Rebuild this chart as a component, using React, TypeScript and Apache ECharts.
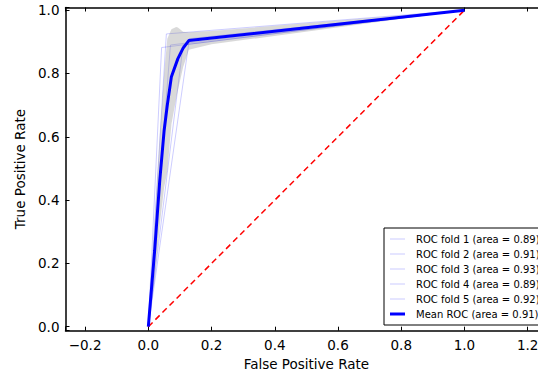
import React, { useEffect, useRef } from 'react';
import * as echarts from 'echarts';

const FONT = 'DejaVu Sans';

const foldLabels = [
  'ROC fold 1 (area = 0.89)',
  'ROC fold 2 (area = 0.91)',
  'ROC fold 3 (area = 0.93)',
  'ROC fold 4 (area = 0.89)',
  'ROC fold 5 (area = 0.92)',
];
const foldFpr = [
  [0, 0.11, 1],
  [0, 0.07, 1],
  [0, 0.057, 1],
  [0, 0.13, 1],
  [0, 0.042, 1],
];
const foldTpr = [
  [0, 0.89, 1],
  [0, 0.89, 1],
  [0, 0.925, 1],
  [0, 0.91, 1],
  [0, 0.882, 1],
];

const meanLabel = 'Mean ROC (area = 0.91)';
const meanFpr = [0, 0.02, 0.036, 0.05, 0.06, 0.073, 0.0935, 0.11, 0.128, 1];
const meanTpr = [0, 0.24, 0.46, 0.62, 0.7, 0.79, 0.847, 0.88, 0.904, 1];

const bandFpr = [0, 0.02, 0.036, 0.05, 0.06, 0.073, 0.088, 0.0935, 0.11, 0.128, 0.2, 1];
const bandUpper = [0, 0.33, 0.6, 0.8, 0.91, 0.94, 0.947, 0.945, 0.932, 0.93, 0.934, 1];
const bandLower = [0, 0.15, 0.32, 0.44, 0.49, 0.64, 0.72, 0.747, 0.82, 0.875, 0.892, 1];

const chanceX = [0, 1];
const chanceY = [0, 1];

const fmt = (v: number) => {
  const k = Math.round(v / 0.2);
  if (Math.abs(v - k * 0.2) > 1e-6) return '';
  let s = (k * 0.2).toFixed(1);
  if (s === '-0.0') s = '0.0';
  return s.startsWith('-') ? '\u2212' + s.slice(1) : s;
};

export default function App() {
  const ref = useRef<HTMLDivElement>(null);
  useEffect(() => {
    const chart = echarts.init(ref.current!, null, { renderer: 'svg' });
    const axisColor = '#000';
    const textStyle = { fontFamily: FONT, fontSize: 13.5, color: '#000' };
    const xBase = {
      type: 'value' as const,
      min: -0.262,
      max: 1.262,
      splitNumber: 7,
      splitLine: { show: false },
      axisLine: { show: true, onZero: false, lineStyle: { color: axisColor, width: 1.5 } },
      axisTick: { show: true, inside: true, length: 4, lineStyle: { color: axisColor } },
    };
    const foldColor = 'rgba(0,0,255,0.2)';
    const series: any[] = [];
    foldLabels.forEach((name, i) => {
      series.push({
        type: 'line',
        name,
        data: foldFpr[i].map((f, j) => [f, foldTpr[i][j]]),
        symbol: 'none',
        showSymbol: false,
        lineStyle: { color: foldColor, width: 1 },
        itemStyle: { color: foldColor },
        z: 2,
      });
    });
    series.push({
      type: 'custom',
      name: 'band',
      silent: true,
      data: bandFpr.map((f, i) => [f, bandLower[i], bandUpper[i]]),
      encode: { x: 0, y: [1, 2] },
      renderItem: (params: any, api: any) => {
        if (params.dataIndex !== 0) return null;
        const pts: number[][] = [];
        for (let i = 0; i < bandFpr.length; i++) pts.push(api.coord([bandFpr[i], bandUpper[i]]));
        for (let i = bandFpr.length - 1; i >= 0; i--) pts.push(api.coord([bandFpr[i], bandLower[i]]));
        return { type: 'polygon', shape: { points: pts }, style: { fill: 'rgba(128,128,128,0.3)', stroke: 'none' } };
      },
      z: 3,
    });
    series.push({
      type: 'line',
      name: 'Luck',
      data: chanceX.map((x, i) => [x, chanceY[i]]),
      symbol: 'none',
      lineStyle: { color: '#ff0000', width: 1.5, type: [6, 4] },
      z: 3,
    });
    series.push({
      type: 'line',
      name: meanLabel,
      data: meanFpr.map((f, i) => [f, meanTpr[i]]),
      symbol: 'none',
      lineStyle: { color: '#0000ff', width: 3 },
      itemStyle: { color: '#0000ff' },
      z: 4,
    });

    const thinIcon = 'path://M0,0M15,8M0,3.3h15v1.4h-15z';
    const thickIcon = 'path://M0,0M15,8M0,2.5h15v3h-15z';

    chart.setOption({
      animation: false,
      backgroundColor: '#fff',
      grid: {
        left: 65.5,
        top: 7.5,
        width: 481.8,
        bottom: 43.3,
        containLabel: false,
        outerBoundsMode: 'none',
      },
      xAxis: [
        {
          ...xBase,
          position: 'bottom',
          axisLabel: { ...textStyle, formatter: fmt, margin: 7 },
          name: 'False Positive Rate',
          nameLocation: 'middle',
          nameGap: 24,
          nameTextStyle: textStyle,
        },
        {
          ...xBase,
          position: 'top',
          axisLabel: { show: false },
        },
      ],
      yAxis: {
        type: 'value',
        min: -0.0126,
        max: 1.0085,
        splitNumber: 5,
        splitLine: { show: false },
        axisLine: { show: true, onZero: false, lineStyle: { color: axisColor, width: 1.5 } },
        axisTick: { show: true, inside: true, length: 4, lineStyle: { color: axisColor } },
        axisLabel: { ...textStyle, formatter: fmt, margin: 6 },
        name: 'True Positive Rate',
        nameLocation: 'middle',
        nameGap: 38,
        nameRotate: 90,
        nameTextStyle: textStyle,
      },
      legend: {
        data: [
          ...foldLabels.map((name) => ({ name, icon: thinIcon, itemStyle: { color: 'rgba(0,0,255,0.15)' } })),
          { name: meanLabel, icon: thickIcon, itemStyle: { color: '#0000ff' } },
        ],
        orient: 'vertical',
        left: 384,
        top: 228,
        padding: [5, 6, 5, 6],
        itemWidth: 15,
        itemHeight: 8,
        itemGap: 3,
        borderColor: '#000',
        borderWidth: 1,
        backgroundColor: '#fff',
        selectedMode: false,
        textStyle: { fontFamily: FONT, fontSize: 10, color: '#000', lineHeight: 12, padding: [0, 0, 0, 6] },
      },
      series,
    });
    return () => chart.dispose();
  }, []);
  return <div ref={ref} style={{ position: 'fixed', left: 0, top: 0, width: 538, height: 374 }} />;
}
